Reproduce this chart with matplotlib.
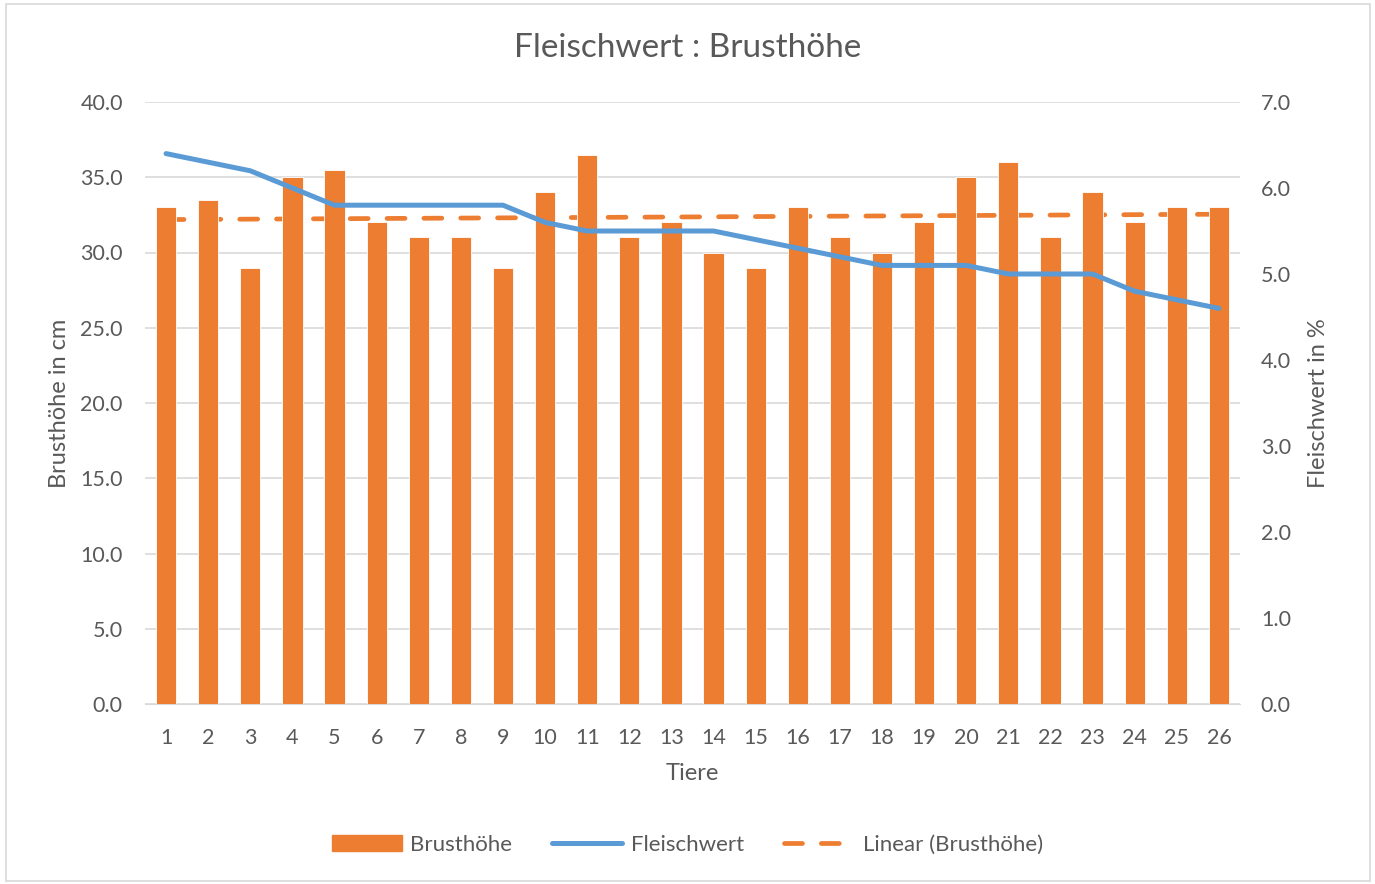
import matplotlib
matplotlib.use("Agg")
import matplotlib.pyplot as plt
import numpy as np
from matplotlib.lines import Line2D
from matplotlib.patches import Rectangle

plt.rcParams['font.family'] = ['Lato', 'DejaVu Sans']

tiere = list(range(1, 27))
brusthoehe = [33, 33.5, 29, 35, 35.5, 32, 31, 31, 29, 34, 36.5, 31, 32, 30, 29,
              33, 31, 30, 32, 35, 36, 31, 34, 32, 33, 33]
fleischwert = [6.4, 6.3, 6.2, 6.0, 5.8, 5.8, 5.8, 5.8, 5.8, 5.6, 5.5, 5.5, 5.5,
               5.5, 5.4, 5.3, 5.2, 5.1, 5.1, 5.1, 5.0, 5.0, 5.0, 4.8, 4.7, 4.6]

orange = '#ED7D31'
blue = '#5B9BD5'
grey = '#595959'
dash = (0, (3.8, 4.0))

fig = plt.figure(figsize=(13.75, 8.84), dpi=100)
ax = fig.add_axes([145/1375, 1 - 704/884, (1240-145)/1375, (704-102)/884])
ax2 = ax.twinx()

x = np.array(tiere)
ax.bar(x, brusthoehe, width=0.48, color=orange, edgecolor='white', linewidth=0.6, zorder=3)

# lineare Trendlinie der Brusthöhe
k, d = np.polyfit(x, brusthoehe, 1)
ax.plot(x, k * x + d, color=orange, lw=3.4, ls=dash, dash_capstyle='round', zorder=2)

ax2.plot(x, fleischwert, color=blue, lw=3.6, solid_capstyle='round', zorder=4)

ax.set_xlim(0.5, 26.5)
ax.set_ylim(0, 40)
ax2.set_ylim(0, 7)
ax.set_yticks(np.arange(0, 41, 5))
ax.set_yticklabels([f'{v:.1f}' for v in np.arange(0, 41, 5)])
ax2.set_yticks(np.arange(0, 8, 1))
ax2.set_yticklabels([f'{v:.1f}' for v in np.arange(0, 8, 1)])
ax.set_xticks(x)
ax.grid(axis='y', color='#D9D9D9', lw=1.2, zorder=0)
ax.set_axisbelow(True)

for a in (ax, ax2):
    for s in a.spines.values():
        s.set_visible(False)
    a.tick_params(length=0, colors=grey, labelsize=15.5)
ax.spines['bottom'].set_visible(True)
ax.spines['bottom'].set_color('#D9D9D9')
ax.tick_params(axis='x', pad=17)
ax.tick_params(axis='y', pad=16)
ax2.tick_params(axis='y', pad=15)

ax.set_xlabel('Tiere', color=grey, fontsize=17, labelpad=11)
ax.set_ylabel('Brusthöhe in cm', color=grey, fontsize=17, labelpad=7)
ax2.set_ylabel('Fleischwert in %', color=grey, fontsize=17, labelpad=12)

fig.text(0.5, 1 - 48/884, 'Fleischwert : Brusthöhe', ha='center', va='center',
         color=grey, fontsize=24)

handles = [Rectangle((0, 0), 1, 1, color=orange),
           Line2D([], [], color=blue, lw=3.6, solid_capstyle='round'),
           Line2D([], [], color=orange, lw=3.4, ls=dash, dash_capstyle='round')]
fig.legend(handles, ['Brusthöhe', 'Fleischwert', 'Linear (Brusthöhe)'],
           loc='center', bbox_to_anchor=(0.5, 1 - 845/884), ncol=3, frameon=False,
           fontsize=16, labelcolor=grey, handlelength=3.15, columnspacing=1.8,
           handletextpad=0.4)

fig.patches.append(Rectangle((0.004, 0.003), 0.992, 0.992, transform=fig.transFigure,
                             fill=False, edgecolor='#D9D9D9', lw=1.2))

fig.savefig('out.png', dpi=100, facecolor='white')
